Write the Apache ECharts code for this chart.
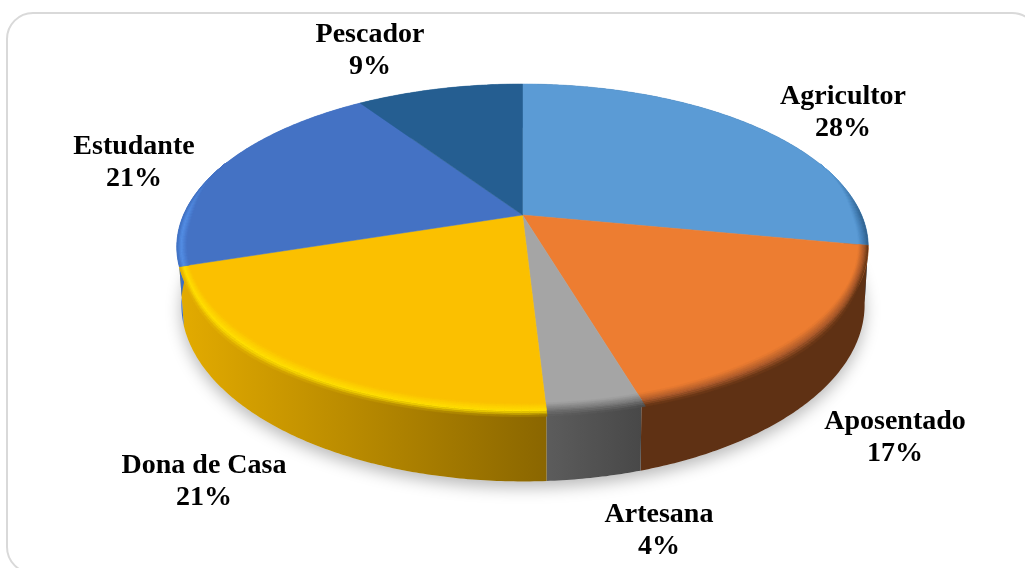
<!DOCTYPE html>
<html><head><meta charset="utf-8">
<style>html,body{margin:0;padding:0;background:#fff}#c{width:1025px;height:568px}</style>
<script src="https://cdn.jsdelivr.net/npm/echarts@6/dist/echarts.min.js"></script>
</head><body><div id="c"></div>
<script>
const categories = ['Agricultor','Aposentado','Artesana','Dona de Casa','Estudante','Pescador'];
const values = [28.0, 17.4, 3.7, 20.9, 20.6, 9.4];
const topColors = ['#5b9bd5','#ed7d31','#a5a5a5','#fbc000','#4472c4','#255e91'];
const rimColors = ['#3f78ad','#a4572a','#707070','#ffe000','#5590e6','#255e91'];
const wallLeft = ['#2f5f8a','#5f3114','#5c5c5c','#e3ab00','#3f6fc0','#255e91'];
const wallRight = ['#2f5f8a','#5f3114','#484848','#8a6600','#3f6fc0','#255e91'];
const labelAnchors = [[843,97],[895,422],[659,515],[204,466],[134,147],[370,35]];

const total = values.reduce((a,b)=>a+b,0);
const starts = []; values.reduce((acc,v,i)=>{starts[i]=acc;return acc+v;},0);
const TILT = 0.196;
const topPlane = {cx:522.5, cy:215, A:339, B:156.7};
const basePlane = {cx:523, cy:270, A:335, B:170};
function project(pl, r, t){
  const X = r*Math.sin(t), Y = -r*Math.cos(t), w = 1 - TILT*Y;
  return [pl.cx + pl.A*X/w, pl.cy + pl.B*Y/w];
}
function arc(pl, r, a, b){
  const n = Math.max(2, Math.ceil(Math.abs(b-a)/0.01)), pts = [];
  for(let i=0;i<=n;i++) pts.push(project(pl, r, a+(b-a)*i/n));
  return pts;
}
function angle(p){ return p/total*2*Math.PI; }
function hex(c){ return [1,3,5].map(i=>parseInt(c.substr(i,2),16)); }
function mixArr(a,b,f){ return a.map((v,i)=>v+(b[i]-v)*f); }
function css(a){ return 'rgb('+a.map(Math.round).join(',')+')'; }
function ramp(lo,hi,v){ const f=Math.min(1,Math.max(0,(v-lo)/(hi-lo))); return f*f*(3-2*f); }
function wallColorAt(i,x,x0,x1){
  const f = x1===x0 ? 0 : Math.min(1,Math.max(0,(x-x0)/(x1-x0)));
  return mixArr(hex(wallLeft[i]),hex(wallRight[i]),f);
}
function renderShadow(){
  return {type:'polygon', shape:{points:arc(basePlane,1,0,2*Math.PI)}, silent:true, style:{
    fill:'#e4e4e4', shadowBlur:16, shadowColor:'rgba(0,0,0,0.28)', shadowOffsetY:6}};
}
function renderWall(params, api){
  const i = api.value(0), a = angle(starts[i]), b = angle(starts[i]+api.value(1));
  const up = arc(topPlane,1,a,b), lo = arc(basePlane,1,a,b).reverse();
  return {type:'polygon', shape:{points:up.concat(lo)}, silent:true, style:{
    fill:new echarts.graphic.LinearGradient(0,0,1,0,[{offset:0,color:wallLeft[i]},{offset:1,color:wallRight[i]}]),
    stroke:null}};
}
function renderTop(params, api){
  const i = api.value(0), a = angle(starts[i]), b = angle(starts[i]+api.value(1));
  const children = [];
  const apex = project(topPlane,0,0);
  children.push({type:'polygon', shape:{points:[apex].concat(arc(topPlane,1,a,b))},
    style:{fill:topColors[i], stroke:topColors[i], lineWidth:0.5}});
  const top = hex(topColors[i]), rim = hex(rimColors[i]);
  const up = arc(topPlane,1,a,b), x0 = Math.min(...up.map(p=>p[0])), x1 = Math.max(...up.map(p=>p[0]));
  const bands = 8, segs = Math.ceil((b-a)/0.02);
  for(let s=0;s<segs;s++){
    const t0 = a+(b-a)*s/segs, t1 = a+(b-a)*(s+1)/segs, tm=(t0+t1)/2;
    const depth = -Math.cos(tm);
    const fade = ramp(-0.35,0.05,depth);
    if(fade<=0) continue;
    const inner = 1-0.028*fade, outer = 1+0.028*ramp(0.35,0.8,depth);
    for(let k=0;k<bands;k++){
      const r0 = inner+(outer-inner)*k/bands, r1 = inner+(outer-inner)*(k+1)/bands;
      const f=(k+0.5)/bands;
      const p0=project(topPlane,r0,t0), p1=project(topPlane,r1,t0), p2=project(topPlane,r1,t1), p3=project(topPlane,r0,t1);
      const wall = wallColorAt(i,(p0[0]+p3[0])/2,x0,x1);
      let col = f<0.6 ? mixArr(top,rim,f/0.6) : mixArr(rim,wall,(f-0.6)/0.4);
      col = mixArr(top,col,fade);
      const c = css(col);
      children.push({type:'polygon', shape:{points:[p0,p1,p2,p3]}, style:{fill:c, stroke:c, lineWidth:0.4}});
    }
  }
  const [lx,ly] = labelAnchors[i];
  const pct = Math.round(api.value(1)/total*100)+'%';
  children.push({type:'text', style:{x:lx, y:ly, text:categories[i], align:'center', verticalAlign:'middle',
    fill:'#000', font:'bold 28px "Liberation Serif"'}});
  children.push({type:'text', style:{x:lx, y:ly+32, text:pct, align:'center', verticalAlign:'middle',
    fill:'#000', font:'bold 28px "Liberation Serif"'}});
  return {type:'group', children};
}
const seriesData = values.map((v,i)=>[i,v]);
const chart = echarts.init(document.getElementById('c'), null, {renderer:'canvas'});
chart.setOption({
  animation:false, backgroundColor:'#fff',
  graphic:[{type:'rect', z:0, silent:true, shape:{x:7,y:13,width:1031,height:560,r:26},
    style:{fill:'#fff',stroke:'#d9d9d9',lineWidth:2}}],
  series:[
    {type:'custom', coordinateSystem:'none', z:1, renderItem:renderShadow, data:[[0]], silent:true},
    {type:'custom', coordinateSystem:'none', z:2, renderItem:renderWall, data:seriesData, silent:true},
    {type:'custom', coordinateSystem:'none', z:3, renderItem:renderTop, data:seriesData, silent:true}
  ]
});
</script></body></html>
